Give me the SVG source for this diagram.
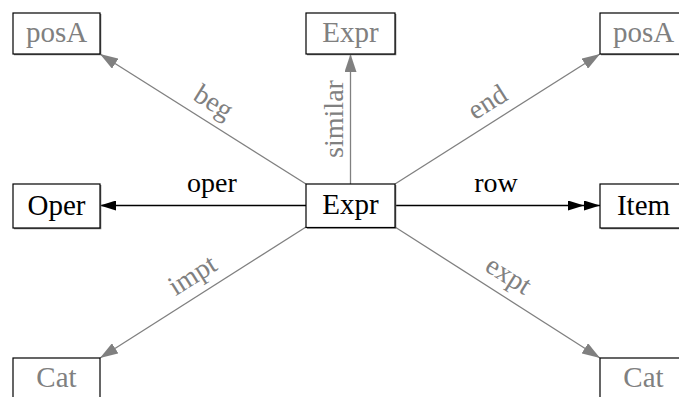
<svg xmlns="http://www.w3.org/2000/svg" width="679" height="397" viewBox="0 0 679 397">
  <style>
    .box { fill: #ffffff; stroke: #000000; stroke-width: 1.2; }
    .shadow { fill: none; stroke: #777777; stroke-width: 1.6; }
    .t { font-family: "Liberation Serif", "Times New Roman", serif; font-size: 29px; text-anchor: middle; }
    .lbl { font-family: "Liberation Serif", "Times New Roman", serif; font-size: 28px; text-anchor: middle; }
    .dim { fill: #808080; }
    .ink { fill: #000000; }
    .gline { stroke: #808080; stroke-width: 1.3; fill: none; }
    .bline { stroke: #000000; stroke-width: 1.3; fill: none; }
  </style>
  <defs>
    <marker id="gArrow" viewBox="0 0 18 12" refX="18" refY="6" markerWidth="18" markerHeight="12" markerUnits="userSpaceOnUse" orient="auto">
      <path d="M0,0 L18,6 L0,12 Z" fill="#808080"/>
    </marker>
    <marker id="bArrow" viewBox="0 0 16 10" refX="16" refY="5" markerWidth="16" markerHeight="10" markerUnits="userSpaceOnUse" orient="auto">
      <path d="M0,0 L16,5 L0,10 Z" fill="#000000"/>
    </marker>
    <marker id="bDouble" viewBox="0 0 32 10" refX="32" refY="5" markerWidth="32" markerHeight="10" markerUnits="userSpaceOnUse" orient="auto">
      <path d="M0,0 L16,5 L0,10 Z M16,0 L32,5 L16,10 Z" fill="#000000"/>
    </marker>
  </defs>

  <!-- connectors -->
  <g id="edges">
    <line class="gline" x1="306" y1="184" x2="100" y2="54" marker-end="url(#gArrow)"/>
    <line class="gline" x1="350.5" y1="184" x2="350.5" y2="54" marker-end="url(#gArrow)"/>
    <line class="gline" x1="395" y1="184" x2="600" y2="54" marker-end="url(#gArrow)"/>
    <line class="bline" x1="306" y1="205.5" x2="100" y2="205.5" marker-end="url(#bArrow)"/>
    <line class="bline" x1="395" y1="205.5" x2="600" y2="205.5" marker-end="url(#bDouble)"/>
    <line class="gline" x1="306" y1="227" x2="100" y2="358" marker-end="url(#gArrow)"/>
    <line class="gline" x1="395" y1="227" x2="600" y2="358" marker-end="url(#gArrow)"/>

    <text class="lbl dim" transform="translate(203,119) rotate(32)" y="-11">beg</text>
    <text class="lbl dim" transform="translate(343,119) rotate(-90)">similar</text>
    <text class="lbl dim" transform="translate(498,119) rotate(-32)" y="-11">end</text>
    <text class="lbl ink" x="212" y="192">oper</text>
    <text class="lbl ink" x="496" y="192">row</text>
    <text class="lbl dim" transform="translate(203,292) rotate(-32)" y="-11">impt</text>
    <text class="lbl dim" transform="translate(498,292) rotate(32)" y="-11">expt</text>
  </g>

  <!-- nodes -->
  <g id="posA-left">
    <path class="shadow" d="M14,54.5 H100.5 V14"/>
    <rect class="box" x="13" y="13" width="87" height="41"/>
    <text class="t dim" x="56.5" y="42">posA</text>
  </g>
  <g id="expr-top">
    <path class="shadow" d="M307,54.5 H395.5 V14"/>
    <rect class="box" x="306" y="13" width="89" height="41"/>
    <text class="t dim" x="350.5" y="42">Expr</text>
  </g>
  <g id="posA-right">
    <path class="shadow" d="M601,54.5 H687.5"/>
    <rect class="box" x="600" y="13" width="87" height="41"/>
    <text class="t dim" x="643.5" y="42">posA</text>
  </g>
  <g id="oper">
    <path class="shadow" d="M14,228.5 H100.5 V185"/>
    <rect class="box" x="13" y="184" width="87" height="44"/>
    <text class="t ink" x="56.5" y="215">Oper</text>
  </g>
  <g id="expr">
    <path class="shadow" d="M307,228 H395.5 V185"/>
    <rect class="box" x="306" y="184" width="89" height="43.5"/>
    <text class="t ink" x="350.5" y="214">Expr</text>
  </g>
  <g id="item">
    <path class="shadow" d="M601,228.5 H687.5"/>
    <rect class="box" x="600" y="184" width="87" height="44"/>
    <text class="t ink" x="643.5" y="215">Item</text>
  </g>
  <g id="cat-left">
    <rect class="box" x="13" y="358" width="87" height="60"/>
    <text class="t dim" x="56.5" y="387">Cat</text>
  </g>
  <g id="cat-right">
    <rect class="box" x="600" y="358" width="87" height="60"/>
    <text class="t dim" x="643.5" y="387">Cat</text>
  </g>
</svg>
